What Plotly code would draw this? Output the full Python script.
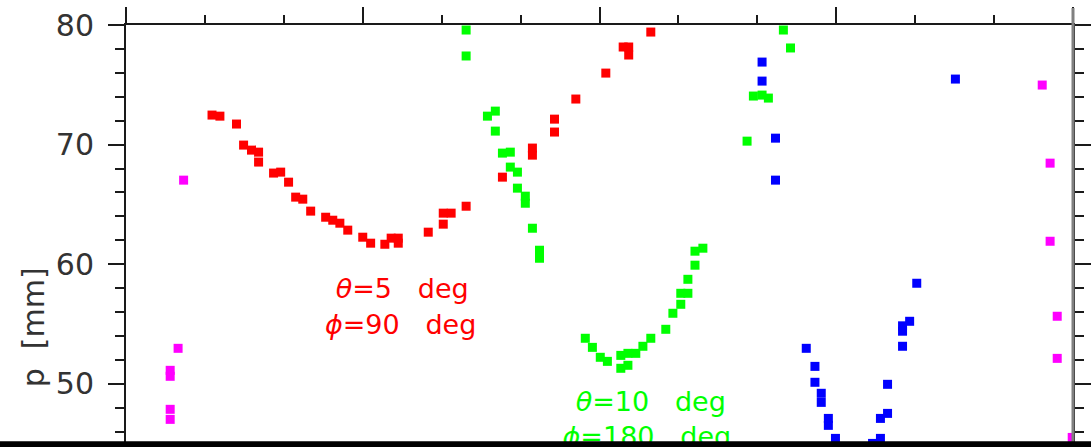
import plotly.graph_objects as go

# Measured track positions p [mm] versus scan coordinate for each beam setting
red_x = [1.09, 1.19, 1.40, 1.49, 1.59, 1.68, 1.68, 1.87, 1.96, 2.06, 2.15, 2.24, 2.34,
         2.53, 2.62, 2.71, 2.81, 3.00, 3.10, 3.28, 3.36, 3.45, 3.45, 3.83, 4.02, 4.02,
         4.12, 4.31, 4.77, 5.15, 5.15, 5.43, 5.43, 5.70, 6.08, 6.30, 6.37, 6.37, 6.65]
red_y = [72.47, 72.38, 71.72, 69.96, 69.54, 69.37, 68.54, 67.62, 67.70, 66.86, 65.61, 65.44, 64.44,
         63.93, 63.68, 63.43, 62.85, 62.26, 61.76, 61.67, 62.18, 62.18, 61.76, 62.68, 63.35, 64.27,
         64.27, 64.85, 67.28, 69.71, 69.12, 72.13, 71.05, 73.81, 75.98, 78.16, 78.16, 77.49, 79.41]

green_x = [4.31, 4.31, 4.58, 4.68, 4.68, 4.77, 4.87, 4.87, 4.96, 4.96, 5.06, 5.06, 5.15,
           5.24, 5.24, 5.82, 5.91, 6.01, 6.10, 6.27, 6.27, 6.36, 6.36, 6.46, 6.55, 6.65,
           6.84, 6.93, 7.03, 7.03, 7.12, 7.12, 7.21, 7.21, 7.31, 7.87, 7.95, 8.06, 8.14,
           8.33, 8.42]
green_y = [79.58, 77.41, 72.38, 72.80, 71.13, 69.29, 69.37, 68.12, 67.70, 66.36, 65.69, 65.10, 63.01,
           61.17, 60.50, 53.81, 53.05, 52.22, 51.88, 52.38, 51.30, 52.55, 51.55, 52.55, 53.14, 53.81,
           54.56, 55.90, 56.65, 57.57, 57.57, 58.74, 59.92, 61.09, 61.34, 70.29, 74.06, 74.14, 73.89,
           79.58, 78.08]

blue_x = [8.06, 8.06, 8.23, 8.23, 8.62, 8.73, 8.73, 8.81, 8.81, 8.90, 8.90, 8.99, 9.46,
          9.56, 9.56, 9.65, 9.65, 9.84, 9.84, 9.84, 9.93, 10.02, 10.51]
blue_y = [76.90, 75.31, 70.54, 67.03, 52.97, 51.46, 50.13, 49.21, 48.45, 47.11, 46.53, 45.44, 45.02,
          45.44, 47.11, 47.53, 49.96, 53.14, 54.40, 54.85, 55.23, 58.41, 75.48]

magenta_x = [0.73, 0.66, 0.56, 0.56, 0.56, 0.56, 11.61, 11.71, 11.71, 11.80, 11.80, 11.99]
magenta_y = [67.03, 52.97, 51.13, 50.63, 47.87, 47.03, 74.98, 68.45, 61.92, 55.65, 52.13, 45.52]

# Setting labels: (text, x, y, colour)
gap = "\u00a0\u00a0\u00a0"
labels = [
    ("<i>θ</i>=5" + gap + "deg", 3.50, 57.75, "#FF0000"),
    ("<i>ϕ</i>=90" + gap + "deg", 3.48, 54.75, "#FF0000"),
    ("<i>θ</i>=10" + gap + "deg", 6.65, 48.30, "#00FF00"),
    ("<i>ϕ</i>=180" + gap + "deg", 6.60, 45.35, "#00FF00"),
]

series = [
    (magenta_x, magenta_y, "#FF00FF"),
    (red_x, red_y, "#FF0000"),
    (green_x, green_y, "#00FF00"),
    (blue_x, blue_y, "#0000FF"),
]

fig = go.Figure()
for xs, ys, col in series:
    fig.add_trace(go.Scatter(
        x=xs, y=ys, mode="markers",
        marker=dict(symbol="square", size=9, color=col, line=dict(width=0)),
        showlegend=False, cliponaxis=True,
    ))

for txt, lx, ly, col in labels:
    fig.add_trace(go.Scatter(
        x=[lx], y=[ly], mode="text", text=[txt], textposition="middle center",
        textfont=dict(family="DejaVu Sans", size=27, color=col),
        showlegend=False, cliponaxis=True,
    ))

axis_col = "#1a1a1a"
fig.update_xaxes(
    range=[0, 12], side="top", showline=True, linecolor=axis_col, linewidth=2,
    ticks="outside", ticklen=16, tickwidth=2, tickcolor=axis_col,
    tick0=0, dtick=3, showticklabels=False, showgrid=False, zeroline=False,
    minor=dict(dtick=1, ticks="outside", ticklen=8, tickwidth=2, tickcolor=axis_col, showgrid=False),
)
fig.update_yaxes(
    range=[44.72, 80], showline=True, linecolor=axis_col, linewidth=2, mirror="ticks",
    ticks="outside", ticklen=16, tickwidth=2, tickcolor=axis_col,
    tick0=0, dtick=10, showgrid=False, zeroline=False,
    tickfont=dict(family="DejaVu Sans", size=30, color="#333333"),
    ticklabelstandoff=8,
    minor=dict(dtick=2, ticks="outside", ticklen=9, tickwidth=2, tickcolor=axis_col, showgrid=False),
)

fig.add_annotation(
    text="p\u00a0\u00a0[mm]", textangle=-90, xref="paper", yref="paper",
    x=-0.098, y=0.284, xanchor="center", yanchor="middle", showarrow=False,
    font=dict(family="DejaVu Sans", size=30, color="#333333"),
)

# right frame edge and the dark strip along the bottom
fig.add_shape(type="line", xref="paper", yref="paper", x0=1, x1=1, y0=0, y1=1.04,
              line=dict(color="#808080", width=3), layer="above")
fig.add_shape(type="rect", xref="paper", yref="paper", x0=-0.14, x1=1.02, y0=-0.01, y1=0.0135,
              fillcolor="#000000", line=dict(width=0), layer="above")

fig.update_layout(
    width=1091, height=447,
    margin=dict(l=126, r=16, t=25, b=0),
    paper_bgcolor="white", plot_bgcolor="white",
)

fig.write_html("out.html")
